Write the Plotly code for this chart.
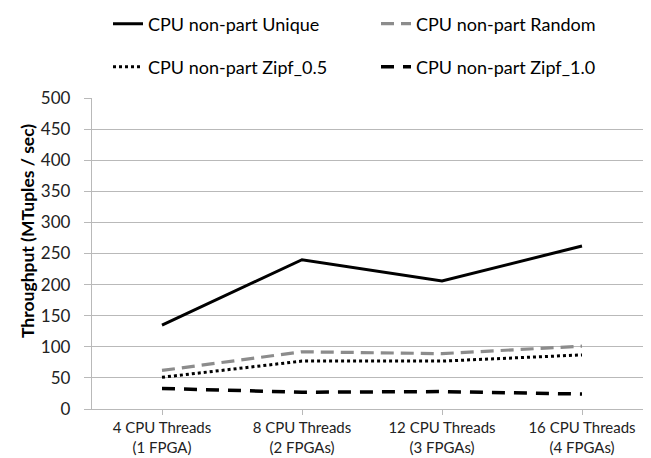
import plotly.graph_objects as go

categories = ["4 CPU Threads<br>(1 FPGA)", "8 CPU Threads<br>(2 FPGAs)",
              "12 CPU Threads<br>(3 FPGAs)", "16 CPU Threads<br>(4 FPGAs)"]
unique_vals = [135, 240, 206, 262]
random_vals = [62, 92, 89, 101]
zipf05_vals = [51, 77, 77, 87]
zipf10_vals = [33, 27, 28, 24]
y_ticks = [0, 50, 100, 150, 200, 250, 300, 350, 400, 450, 500]

FONT = "Lato, Carlito, Calibri, sans-serif"
GRID = "#b9b9b9"

fig = go.Figure()
fig.add_trace(go.Scatter(x=categories, y=unique_vals, mode="lines", name="CPU non-part Unique",
                         line=dict(color="black", width=3), legend="legend"))
fig.add_trace(go.Scatter(x=categories, y=random_vals, mode="lines", name="CPU non-part Random",
                         line=dict(color="#8c8c8c", width=3.2, dash="13px,7px"), legend="legend"))
fig.add_trace(go.Scatter(x=categories, y=zipf05_vals, mode="lines", name="CPU non-part Zipf_0.5",
                         line=dict(color="black", width=3, dash="3px,3px"), legend="legend2"))
fig.add_trace(go.Scatter(x=categories, y=zipf10_vals, mode="lines", name="CPU non-part Zipf_1.0",
                         line=dict(color="black", width=3.5, dash="13px,9px"), legend="legend2"))

legend_common = dict(orientation="h", xanchor="left", yanchor="middle",
                     xref="container", yref="container",
                     font=dict(family=FONT, size=18, color="black"),
                     entrywidth=223, entrywidthmode="pixels",
                     bgcolor="rgba(0,0,0,0)", itemwidth=30, tracegroupgap=0)

fig.update_layout(
    width=651, height=458,
    margin=dict(l=84, r=7, t=90, b=57, autoexpand=False),
    paper_bgcolor="white", plot_bgcolor="white",
    font=dict(family=FONT, size=15, color="#222222"),
    showlegend=True,
    legend=dict(x=100 / 651, y=1 - 16 / 458, **legend_common),
    legend2=dict(x=100 / 651, y=1 - 59 / 458, **legend_common),
    xaxis=dict(
        type="category", range=[-0.5, 3.5],
        showline=True, linecolor=GRID, linewidth=1.3,
        ticks="outside", ticklen=5, tickcolor=GRID, tickwidth=1.3,
        showgrid=False, tickfont=dict(size=15, color="#222222"),
    ),
    yaxis=dict(
        range=[0, 500], tickvals=y_ticks, ticktext=[str(v) for v in y_ticks],
        showline=True, linecolor=GRID, linewidth=1.3,
        ticks="outside", ticklen=7, tickcolor=GRID, tickwidth=1.3,
        ticklabelstandoff=10,
        showgrid=True, gridcolor=GRID, gridwidth=1.3,
        zeroline=False, tickfont=dict(size=17, color="#222222"),
    ),
    annotations=[dict(
        text="<b>Throughput (MTuples / sec)</b>", textangle=-90,
        xref="paper", yref="paper", x=(20 - 84) / 560, y=(401 - 223) / 311,
        xanchor="center", yanchor="middle", showarrow=False,
        font=dict(family=FONT, size=17.5, color="black"),
    )],
)

fig.write_html("out.html")
